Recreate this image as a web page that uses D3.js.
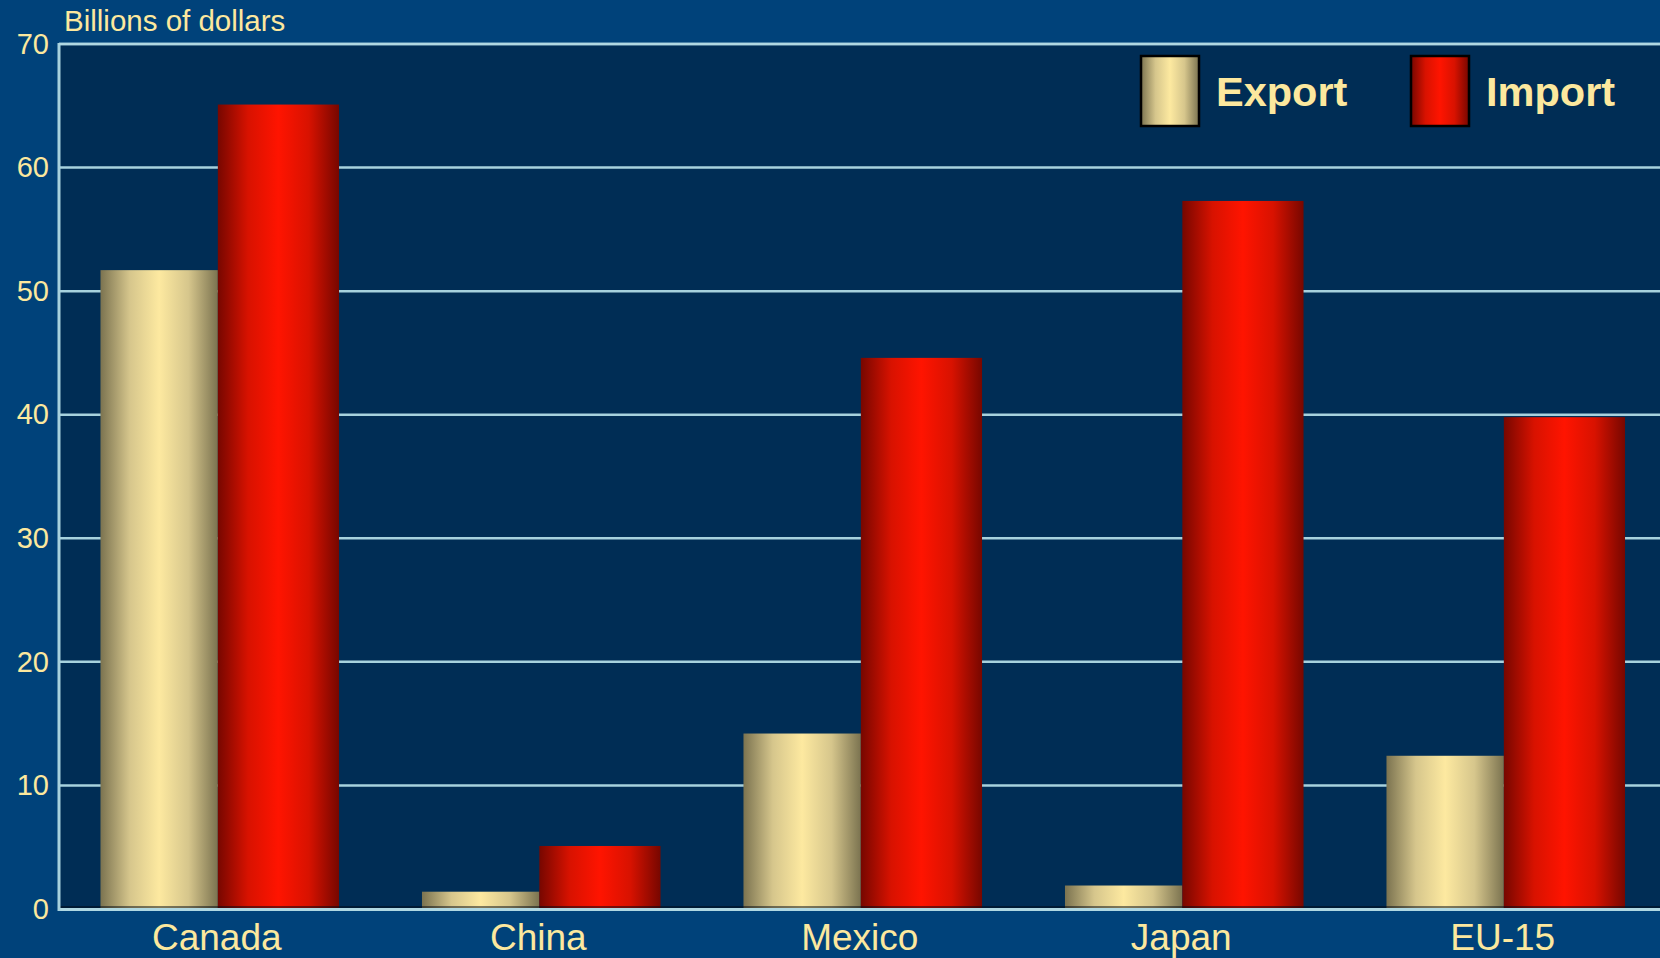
<!DOCTYPE html>
<html>
<head>
<meta charset="utf-8">
<script src="https://cdn.jsdelivr.net/npm/d3@7/dist/d3.min.js"></script>
<style>
  html, body { margin: 0; padding: 0; background: #00427a; overflow: hidden; }
  svg { display: block; }
  text { font-family: "Liberation Sans", Arial, Helvetica, sans-serif; fill: #fce89e; }
</style>
</head>
<body>
<svg id="chart" width="1660" height="958"></svg>
<script>
const categories = ["Canada", "China", "Mexico", "Japan", "EU-15"];
const seriesNames = ["Export", "Import"];
const exportValues = [51.7, 1.4, 14.2, 1.9, 12.4];
const importValues = [65.1, 5.1, 44.6, 57.3, 39.8];
const yTicks = [0, 10, 20, 30, 40, 50, 60, 70];
const axisTitle = "Billions of dollars";

const W = 1660, H = 958;
const plot = { left: 59, top: 44, bottom: 909, right: 1666.5 };

const svg = d3.select("#chart");

// gradients
const defs = svg.append("defs");
function cyl(id, edge, mid, peak) {
  const g = defs.append("linearGradient").attr("id", id)
    .attr("x1", "0%").attr("x2", "100%").attr("y1", "0%").attr("y2", "0%");
  [[0, edge], [0.25, mid], [0.5, peak], [0.75, mid], [1, edge]].forEach(([o, c]) =>
    g.append("stop").attr("offset", o).attr("stop-color", c));
}
cyl("gExport", "#7b7350", "#d6c68c", "#fde9a0");
cyl("gImport", "#770700", "#d81200", "#ff1400");
const fills = { Export: "url(#gExport)", Import: "url(#gImport)" };

// background
svg.append("rect").attr("width", W).attr("height", H).attr("fill", "#00427a");
svg.append("rect").attr("x", plot.left).attr("y", plot.top)
  .attr("width", W - plot.left).attr("height", plot.bottom - plot.top)
  .attr("fill", "#002d55");

const y = d3.scaleLinear().domain([0, 70]).range([plot.bottom, plot.top]);
const x0 = d3.scaleBand().domain(categories).range([plot.left, plot.right])
  .paddingInner(0.258).paddingOuter(0.129);
// import bars are slightly wider than export bars in the original
const x1 = d3.scaleLinear().domain([0, 1]).range([0, x0.bandwidth()]);
const split = 0.492;
const subX = { Export: x1(0), Import: x1(split) };
const subW = { Export: x1(split) - x1(0), Import: x1(1) - x1(split) };

// gridlines
svg.append("g").selectAll("line").data(yTicks.filter(d => d > 0)).join("line")
  .attr("x1", plot.left).attr("x2", W)
  .attr("y1", d => y(d)).attr("y2", d => y(d))
  .attr("stroke", "#a7d2de").attr("stroke-width", 2.5);

// y tick labels via axis
const yAxis = d3.axisLeft(y).tickValues(yTicks).tickSize(0).tickPadding(10);
const ya = svg.append("g").attr("transform", `translate(${plot.left},0)`).call(yAxis);
ya.select(".domain").remove();
ya.selectAll("text").attr("font-size", 29).attr("fill", "#fce89e")
  .attr("font-family", "Liberation Sans, Arial, sans-serif");

// bars
const rows = categories.map((c, i) => ({ c, vals: [
  { s: "Export", v: exportValues[i] }, { s: "Import", v: importValues[i] }] }));
const groups = svg.append("g").selectAll("g").data(rows).join("g")
  .attr("transform", d => `translate(${x0(d.c)},0)`);
groups.selectAll("rect").data(d => d.vals).join("rect")
  .attr("x", d => subX[d.s]).attr("width", d => subW[d.s])
  .attr("y", d => y(d.v)).attr("height", d => y(0) - y(d.v))
  .attr("fill", d => fills[d.s]);

// axes lines
svg.append("line").attr("x1", plot.left).attr("x2", W)
  .attr("y1", plot.bottom - 2).attr("y2", plot.bottom - 2)
  .attr("stroke", "#000814").attr("stroke-width", 1.2);
svg.append("line").attr("x1", plot.left).attr("x2", W)
  .attr("y1", plot.bottom + 0.5).attr("y2", plot.bottom + 0.5)
  .attr("stroke", "#b0d8e2").attr("stroke-width", 3);
svg.append("line").attr("x1", plot.left).attr("x2", plot.left)
  .attr("y1", plot.top - 1).attr("y2", plot.bottom + 2)
  .attr("stroke", "#a7d2de").attr("stroke-width", 3);
svg.append("line").attr("x1", plot.left).attr("x2", W)
  .attr("y1", plot.top).attr("y2", plot.top)
  .attr("stroke", "#b0d8e2").attr("stroke-width", 2.5);

// x labels
const xAxis = d3.axisBottom(x0).tickSize(0).tickPadding(0);
const xa = svg.append("g").attr("transform", `translate(-3,${plot.bottom})`).call(xAxis);
xa.select(".domain").remove();
xa.selectAll("text").attr("font-size", 37).attr("fill", "#fce89e")
  .attr("font-family", "Liberation Sans, Arial, sans-serif")
  .attr("dy", null).attr("y", 41);

// axis title
svg.append("text").attr("x", 64).attr("y", 31).attr("font-size", 29.5).text(axisTitle);

// legend
const legendX = [1141, 1411];
const lg = svg.append("g").selectAll("g").data(seriesNames).join("g")
  .attr("transform", (d, i) => `translate(${legendX[i]},56)`);
lg.append("rect").attr("width", 58).attr("height", 70)
  .attr("fill", d => fills[d]).attr("stroke", "#000").attr("stroke-width", 2.5);
lg.append("text").attr("x", 75).attr("y", 50).attr("font-size", 41.5)
  .attr("font-weight", "bold").text(d => d);
</script>
</body>
</html>
